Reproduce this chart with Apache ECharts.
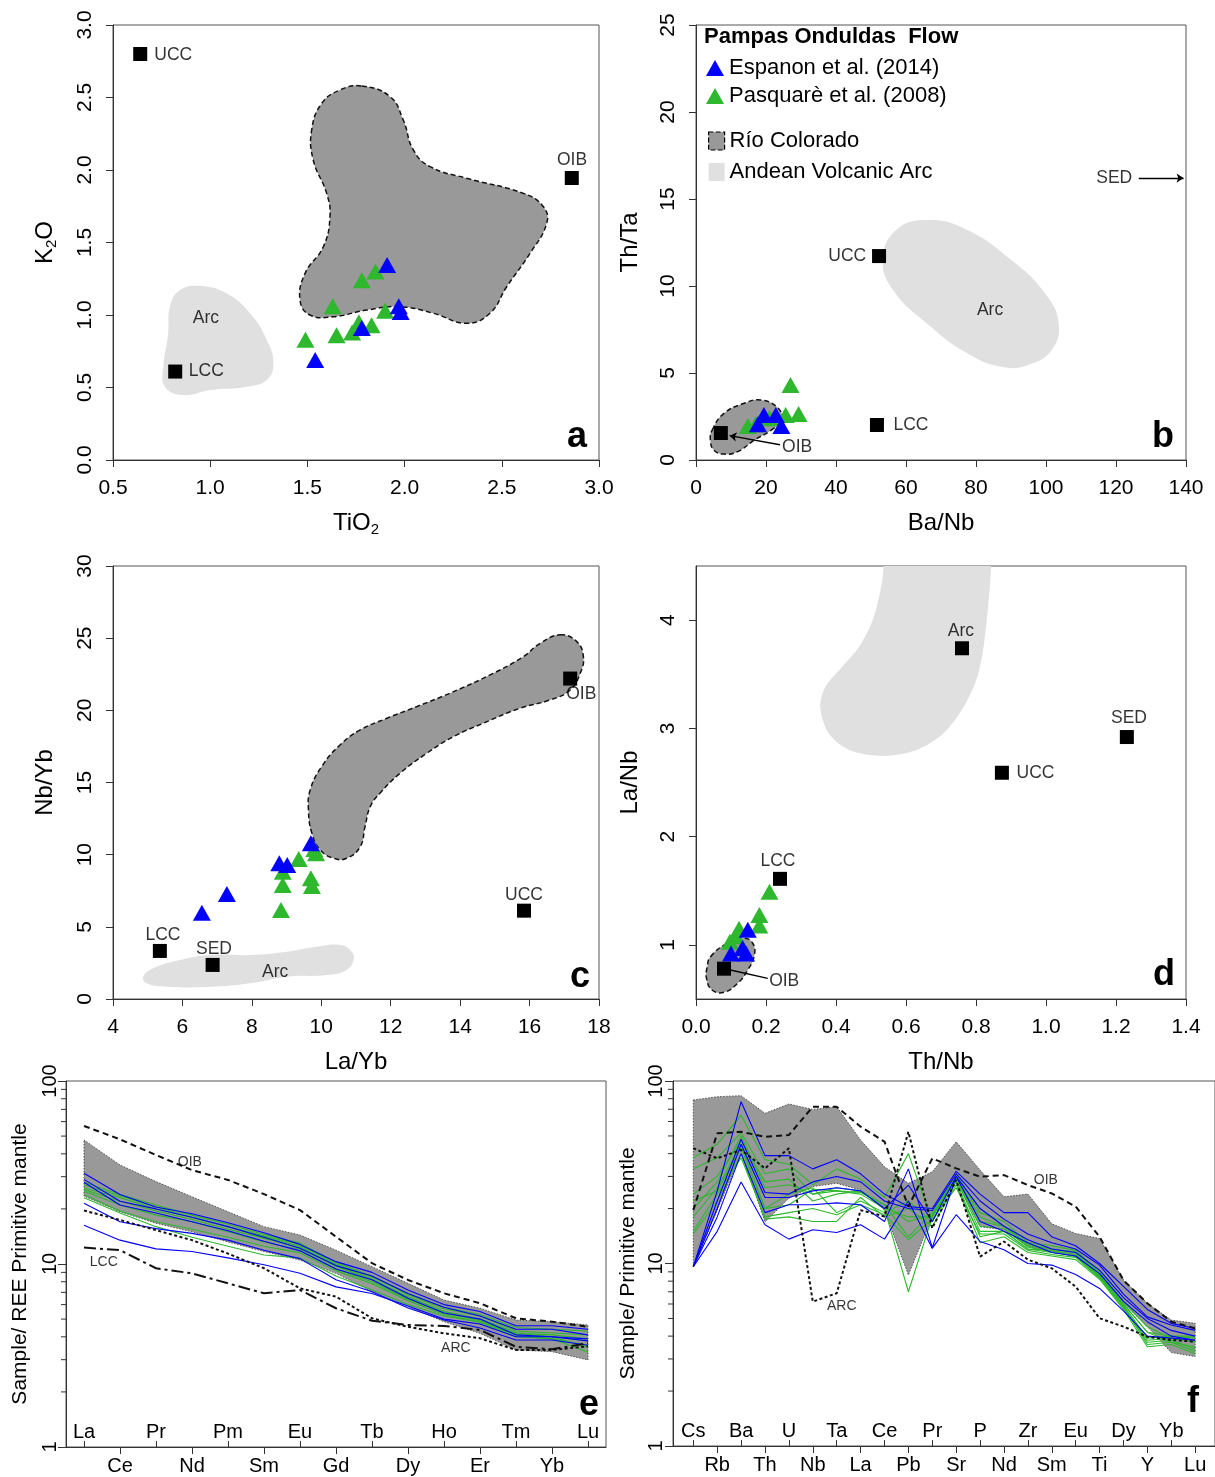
<!DOCTYPE html>
<html><head><meta charset="utf-8">
<script src="https://cdn.jsdelivr.net/npm/echarts@6/dist/echarts.min.js"></script>
<style>html,body{margin:0;padding:0;background:#fff}#chart{width:1215px;height:1477px}</style>
</head><body><div id="chart"></div>
<script>
// ---------------- DATA ----------------
// Panel a : TiO2 vs K2O
const aBlueTiO2 = [1.91, 1.97, 1.98, 1.78, 1.54];
const aBlueK2O  = [1.345, 1.06, 1.02, 0.91, 0.69];
const aGreenTiO2 = [1.85, 1.78, 1.63, 1.90, 1.765, 1.83, 1.73, 1.65, 1.49];
const aGreenK2O  = [1.30, 1.24, 1.06, 1.03, 0.95, 0.93, 0.88, 0.86, 0.83];
const aRefTiO2 = [0.64, 2.86, 0.82];
const aRefK2O  = [2.80, 1.945, 0.61];
const aRioTiO2 = [1.779,1.925,1.993,2.045,2.131,2.319,2.611,2.714,2.731,2.645,2.525,2.439,2.319,2.148,1.976,1.805,1.633,1.513,1.462,1.488,1.582,1.616,1.599,1.530,1.522,1.574,1.668];
const aRioK2O  = [2.579,2.506,2.345,2.138,2.023,1.943,1.839,1.747,1.632,1.425,1.195,1.012,0.943,1.012,1.057,1.034,0.988,1.0,1.103,1.287,1.471,1.678,1.839,2.069,2.276,2.460,2.552];
const aArcTiO2 = [0.948,1.085,1.205,1.291,1.325,1.291,1.188,0.999,0.862,0.767,0.759,0.784,0.793,0.845];
const aArcK2O  = [1.20,1.149,1.012,0.828,0.667,0.552,0.506,0.483,0.448,0.506,0.644,0.874,1.057,1.172];
const aTextNames = ['UCC', 'OIB', 'LCC', 'Arc'];
const aTextX = [0.81, 2.861, 0.98, 0.978];
const aTextY = [2.793, 2.069, 0.614, 0.979];

// Panel b : Ba/Nb vs Th/Ta
const bBlueBaNb = [19.4, 22.8, 24.4, 17.7];
const bBlueThTa = [2.59, 2.59, 1.95, 2.05];
const bGreenBaNb = [27.0, 29.3, 25.6, 14.8, 17.1, 21.0];
const bGreenThTa = [4.31, 2.64, 2.59, 1.95, 2.05, 2.4];
const bRefBaNb = [52.3, 51.7, 7.1];
const bRefThTa = [11.72, 2.01, 1.55];
const bRioBaNb = [4.63, 8.0, 13.8, 18.6, 23.5, 24.4, 21.5, 16.7, 11.9, 8.0, 5.1, 4.1];
const bRioThTa = [1.72, 2.68, 3.26, 3.45, 2.97, 2.30, 1.72, 1.15, 0.48, 0.34, 0.57, 1.15];
const bArcBaNb = [66.4, 77.5, 90.1, 99.7, 103.6, 101.6, 94.9, 87.1, 77.5, 65.9, 56.3, 53.4, 57.2];
const bArcThTa = [13.79, 13.22, 11.49, 9.58, 7.86, 6.32, 5.46, 5.36, 6.13, 7.86, 9.77, 11.49, 13.22];
const bTextNames = ['UCC', 'LCC', 'OIB', 'Arc', 'SED'];
const bTextX = [43.2, 61.4, 28.9, 84.0, 119.5];
const bTextY = [11.72, 2.01, 0.75, 8.62, 16.2];
const bOibLeaderX = [24.0, 9.6];
const bOibLeaderY = [0.88, 1.40];
const bSedArrowX = [126.5, 139.3];
const bSedArrowY = [16.2, 16.2];

// Panel c : La/Yb vs Nb/Yb
const cBlueLaYb = [9.70, 8.79, 9.02, 7.28, 6.56];
const cBlueNbYb = [10.79, 9.40, 9.29, 7.28, 5.98];
const cGreenLaYb = [9.85, 9.35, 8.89, 8.89, 9.70, 9.73, 8.84, 9.80];
const cGreenNbYb = [10.10, 9.70, 8.82, 7.90, 8.36, 7.83, 6.17, 10.4];
const cRefLaYb = [17.17, 15.84, 5.35, 6.87];
const cRefNbYb = [22.2, 6.12, 3.33, 2.36];
const cRioLaYb = [16.88,17.36,17.55,17.46,17.17,16.59,15.73,14.67,13.81,13.04,12.27,11.69,11.41,11.26,11.12,10.73,10.35,9.97,9.73,9.63,9.68,10.01,10.54,11.12,11.89,12.75,13.71,14.96,15.82,16.31];
const cRioNbYb = [25.23,24.76,23.72,22.57,21.41,20.72,20.15,19.11,18.18,17.03,15.64,14.26,13.33,11.94,10.55,9.75,9.75,10.33,11.48,13.10,14.48,16.10,17.60,18.64,19.45,20.26,21.19,22.57,23.72,24.65];
const cArcLaYb = [4.87,5.16,5.93,6.80,7.95,9.01,9.87,10.54,10.88,10.93,10.73,10.16,9.01,7.95,6.80,5.55,4.97];
const cArcNbYb = [1.55,2.13,2.70,3.05,3.05,3.28,3.62,3.74,3.28,2.70,2.01,1.66,1.55,1.09,0.85,0.85,1.09];
const cTextNames = ['OIB', 'UCC', 'LCC', 'SED', 'Arc'];
const cTextX = [17.49, 15.84, 5.44, 6.91, 8.67];
const cTextY = [21.14, 7.21, 4.44, 3.47, 1.87];

// Panel d : Th/Nb vs La/Nb
const dBlueThNb = [0.148, 0.133, 0.10, 0.143];
const dBlueLaNb = [1.14, 0.97, 0.92, 0.92];
const dGreenThNb = [0.210, 0.181, 0.181, 0.123, 0.097, 0.115];
const dGreenLaNb = [1.49, 1.276, 1.18, 1.15, 1.03, 1.08];
const dRefThNb = [0.76, 1.231, 0.874, 0.24, 0.08];
const dRefLaNb = [3.74, 2.92, 2.59, 1.61, 0.78];
const dRioThNb = [0.0415,0.0897,0.138,0.162,0.167,0.148,0.119,0.080,0.046,0.030,0.032];
const dRioLaNb = [0.891,1.015,1.061,1.015,0.906,0.768,0.645,0.562,0.583,0.691,0.798];
const dArcThNb = [0.536,0.529,0.505,0.466,0.418,0.370,0.355,0.379,0.437,0.534,0.630,0.707,0.765,0.804,0.823,0.838,0.843,0.843,0.536];
const dArcLaNb = [4.5,4.309,4.001,3.754,3.570,3.385,3.200,2.954,2.800,2.745,2.800,2.954,3.200,3.477,3.786,4.248,4.5,4.8,4.8];
const dTextNames = ['Arc', 'SED', 'UCC', 'LCC', 'OIB'];
const dTextX = [0.757, 1.237, 0.97, 0.234, 0.252];
const dTextY = [3.90, 3.096, 2.588, 1.775, 0.666];
const dOibLeaderX = [0.205, 0.095];
const dOibLeaderY = [0.69, 0.77];

// Panel e : REE normalised to primitive mantle
const eElements = ['La','Ce','Pr','Nd','Pm','Sm','Eu','Gd','Tb','Dy','Ho','Er','Tm','Yb','Lu'];
const eRioUpper = [47.6,34.8,28.2,23.3,19.3,16.0,14.4,11.9,9.67,7.84,6.35,5.73,4.94,4.84,4.64];
const eRioLower = [23.5,19.3,16.7,15.0,13.2,11.7,10.5,8.89,7.06,5.85,4.84,4.18,3.39,3.32,2.99];
const eOIB = [56.8,48.0,39.4,32.6,28.8,24.1,19.7,14.1,10.1,8.18,6.92,6.10,5.05,4.84,4.54];
const eARC = [19.6,17.4,15.3,13.5,11.4,9.48,7.36,6.63,5.05,4.54,4.18,3.93,3.39,3.39,3.55];
const eLCC = [12.3,11.9,9.48,8.89,7.84,6.92,7.21,5.73,4.90,4.64,4.59,4.36,3.53,3.42,3.69];
const eBlue = [
  [31.3,24,20.5,18.8,16.8,14.8,12.8,10.3,9.0,7.2,6.0,5.5,4.6,4.6,4.4],
  [29,22,20,18,16,14,12.2,9.8,8.6,6.9,5.8,5.2,4.4,4.4,4.1],
  [28,21,19,17,15.2,13.3,11.8,9.4,8.2,6.5,5.4,5.0,4.1,4.0,3.9],
  [21.5,17,15.6,14.7,13.5,11.9,10.7,8.2,7.06,5.75,4.94,4.47,3.84,3.84,3.6],
  [16.3,13.5,12.1,11.7,10.8,9.9,8.9,7.5,6.9,5.9,5.0,4.7,4.0,4.0,3.8]
];
const eGreen = [
  [28,24,21,18.5,16.5,14.5,13,10.2,8.6,6.8,5.7,5.2,4.3,4.2,4.1],
  [26,23,20,18,16,14,12.5,9.8,8.3,6.6,5.5,5.0,4.2,4.1,3.9],
  [25,21,18.5,17,15,13.2,12,9.4,8.0,6.4,5.4,4.9,4.1,4.0,3.8],
  [24,19.5,17,15.5,14,12.5,11.5,9.2,7.8,6.3,5.3,4.8,4.0,3.9,3.6],
  [23,19,16,14,12.5,11.2,10.8,8.6,7.2,6.0,5.2,4.8,4.1,3.9,3.3],
  [27,23.5,20.5,18,16,14.2,12.8,10,8.5,6.9,5.8,5.3,4.5,4.4,4.3],
  [25.5,22,19.5,17.5,15.5,13.8,12.3,9.7,8.2,6.6,5.5,5.0,4.2,4.0,3.5]
];
const eTextNames = ['OIB', 'LCC', 'ARC'];
const eTextX = [2.94, 0.55, 10.33];
const eTextY = [36, 10.3, 3.47];

// Panel f : multi-element spider diagram normalised to primitive mantle
const fElements = ['Cs','Rb','Ba','Th','U','Nb','Ta','La','Ce','Pb','Pr','Sr','P','Nd','Zr','Sm','Eu','Ti','Dy','Y','Yb','Lu'];
const fRioUpper = [78.7,82.0,83.1,66.5,74.8,69.9,72.3,47.5,33.9,27.5,31.8,46.5,32.5,23.2,24.0,16.5,14.6,13.7,8.12,6.05,4.90,4.70];
const fRioLower = [9.6,19.6,40.2,16.9,22.8,26.4,27.5,25.3,19.6,8.65,18.1,28.7,15.9,15.3,12.4,11.6,10.9,8.47,6.05,4.51,3.25,3.09];
const fOIB = [19.6,51.7,52.7,49.5,50.6,72.3,72.3,56.2,46.5,20.5,37.7,33.2,29.9,30.5,26.9,24.2,20.5,14.0,8.1,6.05,4.80,4.41];
const fARC = [42.8,37.7,41.9,33.2,42.8,6.18,6.87,19.6,18.1,52.7,15.6,28.7,10.9,13.2,10.5,9.41,7.47,5.01,4.51,3.97,3.81,3.73];
const fBlue = [
  [9.6,25,77,39,39,33,37,31,24,20.5,20,32,24,19,19,14,12.5,10,7.5,5.6,4.7,4.4],
  [9.6,22,48,24.5,24,28,30,28,22,20,19.5,31,22,17.5,14.5,13,12,9.8,6.8,5.1,4.6,4.3],
  [9.6,20,45,23,23,25,26,25,20,26.9,17,30,20,16,13.5,12,11.5,9.2,6.5,5.0,4.3,4.0],
  [9.6,18,40,19,21,21,21.5,21,17,33,12.2,30,17,15,13,11.5,11,8.8,6.2,4.8,4.0,3.8],
  [9.6,15,28,16.3,13.6,15.3,14.8,16.3,13.6,22,12.1,18.5,13.2,11.9,10,9.8,8.7,7.3,5.5,4.0,3.9,3.8]
];
const fGreen = [
  [38,45,65,37,35,27,33,29,23,40,17,31,19,17,13,12.5,11.8,9.0,6.2,4.5,3.9,3.7],
  [33,38,52,31,33,24,26,25,21,14,19,30,17,16,12.5,12,11.5,8.7,6.0,4.2,3.7,3.5],
  [24,30,47,28,29,22,24,25,20,7,18,29,15,15,12,11.5,11,8.4,5.8,3.6,3.7,3.3],
  [22,25,43,20,24,26,19,22,19,22,17,28,14,15,12,11.8,11.2,8.5,5.8,3.8,3.9,3.7],
  [14.5,22,40,17.5,18,17,17,23,18,20,16,27,13,14,11.5,11,10.5,8.2,5.6,3.5,3.6,3.2],
  [15,24,38,18,19,20,18.5,21,18.5,13.5,17.5,26,14.5,14.5,11.8,11.2,10.8,8.3,5.7,3.7,3.8,3.4],
  [18,26,45,20,21,25.5,25,24,20,18,18,29,16,15.5,12.3,11.6,11,8.6,5.9,3.9,4.0,3.9],
  [20,28,50,26,27,24,25,24.5,21,17,18.5,30,18,16,12.8,12,11.6,8.8,6.0,4.2,4.0,4.0]
];
const fTextNames = ['OIB', 'ARC'];
const fTextX = [14.75, 6.21];
const fTextY = [28.7, 5.85];

const logMinor = [2,3,4,5,6,7,8,9,20,30,40,50,60,70,80,90];

// ---------------- STYLE / HELPERS ----------------
const FONT = '"Liberation Sans", Arial, Helvetica, sans-serif';
const BLUE = '#0000ff', GREEN = '#2eb82e', DARK = '#999999', LIGHT = '#e0e0e0';
const S_BLUE = 'Espanon et al. (2014)', S_GREEN = 'Pasquarè et al. (2008)';
const S_RIO = 'Río Colorado', S_ARC = 'Andean Volcanic Arc';

const pts = (xs, ys) => xs.map((x, i) => [x, ys[i]]);
const AX = {a:{x:0,y:0}, b:{x:1,y:1}, c:{x:2,y:2}, d:{x:3,y:3}, e:{x:4,y:4}, f:{x:6,y:5}};

function region(name, xs, ys, fill, border, ax, smooth) {
  return {
    type: 'custom', name, xAxisIndex: ax.x, yAxisIndex: ax.y, z: 1, silent: true, clip: true,
    itemStyle: {color: fill}, data: pts(xs, ys),
    renderItem(params, api) {
      if (params.dataIndex !== 0) return null;
      const p = xs.map((x, i) => api.coord([x, ys[i]]));
      const st = {fill: fill};
      if (border) { st.stroke = border.color; st.lineWidth = border.width; st.lineDash = border.dash; }
      return {type: 'polygon', shape: {points: p, smooth: smooth || 0}, style: st};
    }
  };
}
const DASHB = {color: '#111', width: 1.5, dash: [5, 3]};
const DOTB = {color: '#444', width: 0.9, dash: [1.5, 1.5]};

function tri(name, xs, ys, color, ax) {
  return {type: 'scatter', name, xAxisIndex: ax.x, yAxisIndex: ax.y, symbol: 'triangle',
    symbolSize: [18, 16], itemStyle: {color, opacity: 1}, z: 5, silent: true, data: pts(xs, ys)};
}
function squares(xs, ys, ax) {
  return {type: 'scatter', xAxisIndex: ax.x, yAxisIndex: ax.y, symbol: 'rect', symbolSize: 14,
    itemStyle: {color: '#000', opacity: 1}, z: 6, silent: true, data: pts(xs, ys)};
}
function texts(names, xs, ys, ax, size) {
  return {type: 'scatter', xAxisIndex: ax.x, yAxisIndex: ax.y, symbolSize: 1, z: 7, silent: true,
    itemStyle: {color: 'rgba(0,0,0,0)'},
    label: {show: true, position: 'inside', formatter: '{b}', color: '#000', fontSize: size, fontFamily: FONT},
    data: xs.map((x, i) => ({name: names[i], value: [x, ys[i]]}))};
}
function leader(xs, ys, ax, arrow) {
  return {type: 'lines', coordinateSystem: 'cartesian2d', xAxisIndex: ax.x, yAxisIndex: ax.y, z: 6, silent: true,
    symbol: ['none', arrow ? 'arrow' : 'none'], symbolSize: arrow ? 7 : 0,
    lineStyle: {color: '#000', width: 1.4, opacity: 1},
    data: [{coords: pts(xs, ys)}]};
}
function spider(vals, color, width, dash, ax, z) {
  return {type: 'line', xAxisIndex: ax.x, yAxisIndex: ax.y, silent: true, z: z || 3,
    data: vals.map((v, i) => [i, v]), symbol: 'none', lineStyle: {color, width, type: dash || 'solid', opacity: 1}};
}
function band(upper, lower, ax) {
  const xs = upper.map((v, i) => i).concat(lower.map((v, i) => i).reverse());
  const ys = upper.concat(lower.slice().reverse());
  return region(S_RIO, xs, ys, DARK, DOTB, ax, 0);
}
function minorTicks(xmin, ax) {
  return {type: 'custom', xAxisIndex: ax.x, yAxisIndex: ax.y, clip: false, silent: true, z: 4,
    data: logMinor.map(v => [xmin, v]),
    renderItem(params, api) {
      const p = api.coord([api.value(0), api.value(1)]);
      return {type: 'line', shape: {x1: p[0], y1: p[1], x2: p[0] - 5, y2: p[1]}, style: {stroke: '#333', lineWidth: 1}};
    }};
}

const lblBase = {color: '#000', fontSize: 21, fontFamily: FONT};
const nameBase = {color: '#000', fontSize: 24, fontFamily: FONT,
  rich: {s: {fontSize: 15, fontFamily: FONT, color: '#000', padding: [12, 0, 0, 0], verticalAlign: 'bottom'}}};
function vAxis(grid, o) {
  return Object.assign({
    gridIndex: grid, type: 'value', splitLine: {show: false},
    axisLine: {onZero: false, lineStyle: {color: '#333', width: 1}},
    axisTick: Object.assign({length: 7, lineStyle: {color: '#333'}}, o.tick || {}),
    axisLabel: Object.assign({}, lblBase, o.label || {}),
    nameLocation: 'middle', nameTextStyle: nameBase
  }, o.rest || {});
}
const f1 = v => v.toFixed(1);
const f0 = v => String(Math.round(v));
const catLbl = {fontSize: 20};

const xAxes = [
  vAxis(0, {label: {margin: 18, formatter: f1}, rest: {min: 0.5, max: 3.0, interval: 0.5, name: 'TiO{s|2}', nameGap: 50}}),
  vAxis(1, {label: {margin: 18, formatter: f0}, rest: {min: 0, max: 140, interval: 20, name: 'Ba/Nb', nameGap: 51}}),
  vAxis(2, {label: {margin: 18, formatter: f0}, rest: {min: 4, max: 18, interval: 2, name: 'La/Yb', nameGap: 51}}),
  vAxis(3, {label: {margin: 18, formatter: f1}, rest: {min: 0, max: 1.4, interval: 0.2, name: 'Th/Nb', nameGap: 51}}),
  // e outer / inner
  vAxis(4, {tick: {customValues: [1,3,5,7,9,11,13]}, label: Object.assign({margin: 9, customValues: [1,3,5,7,9,11,13], formatter: v => eElements[Math.round(v)]}, catLbl),
    rest: {min: -0.5, max: 14.5, position: 'bottom'}}),
  vAxis(4, {tick: {inside: true, length: 6, customValues: [0,2,4,6,8,10,12,14]},
    label: Object.assign({inside: true, margin: 5, customValues: [0,2,4,6,8,10,12,14], formatter: v => eElements[Math.round(v)]}, catLbl),
    rest: {min: -0.5, max: 14.5, position: 'bottom', axisLine: {show: false, onZero: false}}}),
  // f outer / inner
  vAxis(5, {tick: {customValues: [1,3,5,7,9,11,13,15,17,19,21]}, label: Object.assign({margin: 9, customValues: [1,3,5,7,9,11,13,15,17,19,21], formatter: v => fElements[Math.round(v)]}, catLbl),
    rest: {min: -0.85, max: 21.83, position: 'bottom'}}),
  vAxis(5, {tick: {inside: true, length: 6, customValues: [0,2,4,6,8,10,12,14,16,18,20]},
    label: Object.assign({inside: true, margin: 5, customValues: [0,2,4,6,8,10,12,14,16,18,20], formatter: v => fElements[Math.round(v)]}, catLbl),
    rest: {min: -0.85, max: 21.83, position: 'bottom', axisLine: {show: false, onZero: false}}})
];
const yAxes = [
  vAxis(0, {label: {rotate: 90, margin: 17, formatter: f1}, rest: {min: 0, max: 3, interval: 0.5, name: 'K{s|2}O', nameGap: 54, nameRotate: 90}}),
  vAxis(1, {label: {rotate: 90, margin: 17, formatter: f0}, rest: {min: 0, max: 25, interval: 5, name: 'Th/Ta', nameGap: 54, nameRotate: 90}}),
  vAxis(2, {label: {rotate: 90, margin: 17, formatter: f0}, rest: {min: 0, max: 30, interval: 5, name: 'Nb/Yb', nameGap: 56, nameRotate: 90}}),
  vAxis(3, {tick: {customValues: [1,2,3,4]}, label: {rotate: 90, margin: 17, customValues: [1,2,3,4], formatter: f0},
    rest: {min: 0.5, max: 4.5, name: 'La/Nb', nameGap: 54, nameRotate: 90}}),
  vAxis(4, {tick: {length: 8}, label: {rotate: 90, margin: 6, fontSize: 20, formatter: f0},
    rest: {type: 'log', logBase: 10, min: 1, max: 100, name: 'Sample/ REE Primitive mantle', nameGap: 35, nameRotate: 90,
      nameTextStyle: {color: '#000', fontSize: 21, fontFamily: FONT}}}),
  vAxis(5, {tick: {length: 8}, label: {rotate: 90, margin: 7, fontSize: 20, formatter: f0},
    rest: {type: 'log', logBase: 10, min: 1, max: 100, name: 'Sample/ Primitive mantle', nameGap: 34, nameRotate: 90,
      nameTextStyle: {color: '#000', fontSize: 21, fontFamily: FONT}}})
];
const gridBase = {show: true, borderColor: '#555', borderWidth: 1, containLabel: false};
const grids = [
  Object.assign({left: 113, top: 25, width: 486, height: 435}, gridBase),
  Object.assign({left: 696, top: 25, width: 490, height: 435}, gridBase),
  Object.assign({left: 113, top: 566, width: 486, height: 433}, gridBase),
  Object.assign({left: 696, top: 566, width: 490, height: 433}, gridBase),
  Object.assign({left: 66, top: 1081, width: 540, height: 366}, gridBase),
  Object.assign({left: 673, top: 1081, width: 544, height: 365}, gridBase)
];

const series = [];
const LBL = 17.5;
// a
series.push(region(S_ARC, aArcTiO2, aArcK2O, LIGHT, null, AX.a, 0.45));
series.push(region(S_RIO, aRioTiO2, aRioK2O, DARK, DASHB, AX.a, 0.45));
series.push(squares(aRefTiO2, aRefK2O, AX.a));
series.push(tri(S_GREEN, aGreenTiO2, aGreenK2O, GREEN, AX.a));
series.push(tri(S_BLUE, aBlueTiO2, aBlueK2O, BLUE, AX.a));
series.push(texts(aTextNames, aTextX, aTextY, AX.a, LBL));
// b
series.push(region(S_ARC, bArcBaNb, bArcThTa, LIGHT, null, AX.b, 0.45));
series.push(region(S_RIO, bRioBaNb, bRioThTa, DARK, DASHB, AX.b, 0.45));
series.push(squares(bRefBaNb, bRefThTa, AX.b));
series.push(tri(S_GREEN, bGreenBaNb, bGreenThTa, GREEN, AX.b));
series.push(tri(S_BLUE, bBlueBaNb, bBlueThTa, BLUE, AX.b));
series.push(texts(bTextNames, bTextX, bTextY, AX.b, LBL));
series.push(leader(bOibLeaderX, bOibLeaderY, AX.b, true));
series.push(leader(bSedArrowX, bSedArrowY, AX.b, true));
// c
series.push(region(S_ARC, cArcLaYb, cArcNbYb, LIGHT, null, AX.c, 0.45));
series.push(region(S_RIO, cRioLaYb, cRioNbYb, DARK, DASHB, AX.c, 0.45));
series.push(squares(cRefLaYb, cRefNbYb, AX.c));
series.push(tri(S_GREEN, cGreenLaYb, cGreenNbYb, GREEN, AX.c));
series.push(tri(S_BLUE, cBlueLaYb, cBlueNbYb, BLUE, AX.c));
series.push(texts(cTextNames, cTextX, cTextY, AX.c, LBL));
// d
series.push(region(S_ARC, dArcThNb, dArcLaNb, LIGHT, null, AX.d, 0.3));
series.push(region(S_RIO, dRioThNb, dRioLaNb, DARK, DASHB, AX.d, 0.45));
series.push(squares(dRefThNb, dRefLaNb, AX.d));
series.push(tri(S_GREEN, dGreenThNb, dGreenLaNb, GREEN, AX.d));
series.push(tri(S_BLUE, dBlueThNb, dBlueLaNb, BLUE, AX.d));
series.push(texts(dTextNames, dTextX, dTextY, AX.d, LBL));
series.push(leader(dOibLeaderX, dOibLeaderY, AX.d, false));
// e
series.push(band(eRioUpper, eRioLower, AX.e));
eGreen.forEach(v => series.push(spider(v, GREEN, 1.1, 'solid', AX.e)));
eBlue.forEach(v => series.push(spider(v, BLUE, 1.1, 'solid', AX.e)));
series.push(spider(eOIB, '#111', 2, [6, 4], AX.e, 4));
series.push(spider(eARC, '#111', 2, [3, 2.5], AX.e, 4));
series.push(spider(eLCC, '#111', 2, [12, 4, 3, 4], AX.e, 4));
series.push(texts(eTextNames, eTextX, eTextY, AX.e, 14));
series.push(minorTicks(-0.5, AX.e));
// f
series.push(band(fRioUpper, fRioLower, AX.f));
fGreen.forEach(v => series.push(spider(v, GREEN, 1.1, 'solid', AX.f)));
fBlue.forEach(v => series.push(spider(v, BLUE, 1.1, 'solid', AX.f)));
series.push(spider(fOIB, '#111', 2, [6, 4], AX.f, 4));
series.push(spider(fARC, '#111', 2, [3, 2.5], AX.f, 4));
series.push(texts(fTextNames, fTextX, fTextY, AX.f, 14));
series.push(minorTicks(-0.85, AX.f));

const letterFont = 'bold 36px ' + FONT;
const letters = [['a', 587, 455], ['b', 1174, 455], ['c', 590, 995], ['d', 1175, 993], ['e', 599, 1423], ['f', 1199, 1420]];

const chart = echarts.init(document.getElementById('chart'), null, {renderer: 'canvas'});
chart.setOption({
  animation: false,
  backgroundColor: '#fff',
  textStyle: {fontFamily: FONT},
  title: {text: 'Pampas Onduldas  Flow', left: 704, top: 26, padding: 0,
    textStyle: {fontSize: 22, fontWeight: 'bold', fontFamily: FONT, color: '#000'}},
  legend: [
    {orient: 'vertical', left: 706, top: 57, padding: 0, itemGap: 6, itemWidth: 18, itemHeight: 16, icon: 'triangle',
      selectedMode: false, textStyle: {fontSize: 22, fontFamily: FONT, color: '#000'},
      itemStyle: {opacity: 1},
      data: [S_BLUE, S_GREEN]},
    {orient: 'vertical', left: 708, top: 130, padding: 0, itemGap: 9, itemWidth: 16, itemHeight: 18, icon: 'rect',
      selectedMode: false, textStyle: {fontSize: 22, fontFamily: FONT, color: '#000'},
      data: [{name: S_RIO, itemStyle: {color: DARK, borderColor: '#000', borderType: 'dashed', borderWidth: 1.2}},
             {name: S_ARC, itemStyle: {color: LIGHT, borderWidth: 0}}]}
  ],
  grid: grids,
  xAxis: xAxes,
  yAxis: yAxes,
  series: series,
  graphic: letters.map(l => ({type: 'text', x: l[1], y: l[2], silent: true,
    style: {text: l[0], font: letterFont, fill: '#000', align: 'right', verticalAlign: 'bottom'}}))
});
</script></body></html>
